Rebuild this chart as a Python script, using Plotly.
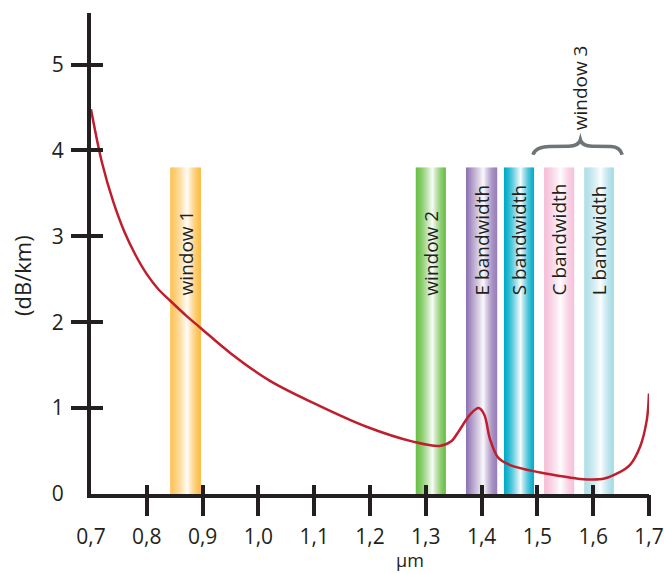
import plotly.graph_objects as go

# ---- data ----
wl = [0.700, 0.720, 0.740, 0.760, 0.780, 0.800, 0.820, 0.842, 0.870, 0.897, 0.950,
      1.020, 1.105, 1.195, 1.277, 1.325, 1.345, 1.360, 1.380, 1.395, 1.405, 1.415,
      1.430, 1.450, 1.505, 1.550, 1.589, 1.620, 1.643, 1.666, 1.684, 1.696, 1.700]
att = [4.48, 3.85, 3.40, 3.05, 2.78, 2.56, 2.39, 2.25, 2.08, 1.93, 1.64,
       1.32, 1.04, 0.78, 0.61, 0.56, 0.61, 0.74, 0.93, 1.00, 0.92, 0.64,
       0.42, 0.34, 0.25, 0.20, 0.17, 0.18, 0.24, 0.34, 0.55, 0.86, 1.17]

band_labels = ["window 1", "window 2", "E bandwidth", "S bandwidth", "C bandwidth", "L bandwidth"]
band_start = [0.842, 1.282, 1.372, 1.440, 1.512, 1.584]
band_end = [0.897, 1.336, 1.428, 1.494, 1.566, 1.637]
band_top = 3.8
band_colors = ["#FDBD45", "#6ABF47", "#8F74B3", "#00ACC9", "#F6BCD7", "#A6DBE5"]

x_ticks = [0.7, 0.8, 0.9, 1.0, 1.1, 1.2, 1.3, 1.4, 1.5, 1.6, 1.7]
y_ticks = [0, 1, 2, 3, 4, 5]

INK = "#231f20"
FONT = "Open Sans"


def hex2rgb(h):
    h = h.lstrip("#")
    return tuple(int(h[i:i + 2], 16) for i in (0, 2, 4))


shapes = []
N = 30
for s, e, c in zip(band_start, band_end, band_colors):
    r, g, b = hex2rgb(c)
    for i in range(N):
        f = (i + 0.5) / N
        if f < 0.55:
            w = 1 - (0.55 - f) / 0.55
        else:
            w = 1 - (f - 0.55) / 0.45
        w = max(0.0, min(1.0, w)) ** 1.4 * 0.97
        rr = int(r + (255 - r) * w)
        gg = int(g + (255 - g) * w)
        bb = int(b + (255 - b) * w)
        x0 = s + (e - s) * i / N
        x1 = s + (e - s) * (i + 1) / N
        if i < N - 1:
            x1 += (e - s) / N * 0.3
        shapes.append(dict(type="rect", xref="x", yref="y", x0=x0, x1=x1,
                           y0=0, y1=band_top, line=dict(width=0),
                           fillcolor=f"rgb({rr},{gg},{bb})", layer="below"))

# curly brace over C and L bands
shapes.append(dict(
    type="path", xref="x", yref="y",
    path="M 1.492,3.95 Q 1.496,4.04 1.522,4.045 L 1.556,4.05 Q 1.574,4.05 1.577,4.125 "
         "Q 1.580,4.05 1.598,4.05 L 1.632,4.045 Q 1.648,4.04 1.652,3.95",
    line=dict(color="#6f7477", width=3.5), layer="above"))

fig = go.Figure()
fig.add_trace(go.Scatter(x=wl, y=att, mode="lines", line=dict(color="#BE1E2D", width=2.5, shape="spline"),
                         hoverinfo="skip", showlegend=False))
# dummy traces for tick overlay axes
fig.add_trace(go.Scatter(x=[None], y=[None], xaxis="x2", yaxis="y2", showlegend=False))
fig.add_trace(go.Scatter(x=[None], y=[None], xaxis="x3", yaxis="y3", showlegend=False))

annotations = []
for lab, s, e in zip(band_labels, band_start, band_end):
    annotations.append(dict(x=(s + e) / 2, y=2.29, xref="x", yref="y", text=lab, textangle=-90,
                            showarrow=False, xanchor="center", yanchor="bottom",
                            font=dict(family=FONT, size=19, color=INK)))
annotations.append(dict(x=1.577, y=4.21, xref="x", yref="y", text="window 3", textangle=-90,
                        showarrow=False, xanchor="center", yanchor="bottom",
                        font=dict(family=FONT, size=19, color=INK)))
annotations.append(dict(x=-0.124, y=0.455, xref="paper", yref="paper", text="(dB/km)", textangle=-90,
                        showarrow=False, xanchor="center", yanchor="middle",
                        font=dict(family=FONT, size=22, color=INK)))
annotations.append(dict(x=0.572, y=-0.138, xref="paper", yref="paper", text="µm",
                        showarrow=False, xanchor="center", yanchor="middle",
                        font=dict(family=FONT, size=18, color=INK)))

xr = [0.7, 1.7]
yr = [0, 5.6]
tickfont = dict(family=FONT, size=21, color=INK)
common = dict(showgrid=False, zeroline=False, automargin=False, fixedrange=True)

fig.update_layout(
    template="none",
    width=664, height=574,
    margin=dict(l=91, r=15, t=13, b=80, pad=0),
    paper_bgcolor="white", plot_bgcolor="white",
    separators=",.",
    shapes=shapes, annotations=annotations,
    showlegend=False,
    xaxis=dict(range=xr, tickvals=x_ticks, tickformat=".1f", ticks="outside", ticklen=21,
               tickcolor="rgba(0,0,0,0)", tickfont=tickfont, showline=True, linecolor=INK,
               linewidth=4, **common),
    yaxis=dict(range=yr, tickvals=y_ticks, ticks="outside", ticklen=19,
               tickcolor="rgba(0,0,0,0)", tickfont=tickfont, showline=True, linecolor=INK,
               linewidth=4, **common),
    xaxis2=dict(range=xr, overlaying="x", anchor="y", side="bottom", tickvals=x_ticks[1:],
                ticks="outside", ticklen=21, tickwidth=4, tickcolor=INK, showticklabels=False,
                showline=False, **common),
    yaxis2=dict(range=yr, overlaying="y", anchor="x", side="left", tickvals=y_ticks[1:],
                ticks="outside", ticklen=19, tickwidth=4, tickcolor=INK, showticklabels=False,
                showline=False, **common),
    xaxis3=dict(range=xr, overlaying="x", anchor="y", side="bottom", tickvals=x_ticks[1:],
                ticks="inside", ticklen=9, tickwidth=4, tickcolor=INK, showticklabels=False,
                showline=False, **common),
    yaxis3=dict(range=yr, overlaying="y", anchor="x", side="left", tickvals=y_ticks[1:],
                ticks="inside", ticklen=12, tickwidth=4, tickcolor=INK, showticklabels=False,
                showline=False, **common),
)

fig.write_html("out.html", config={"displayModeBar": False},
               post_script="document.body.style.margin='0';document.body.style.padding='0';")
